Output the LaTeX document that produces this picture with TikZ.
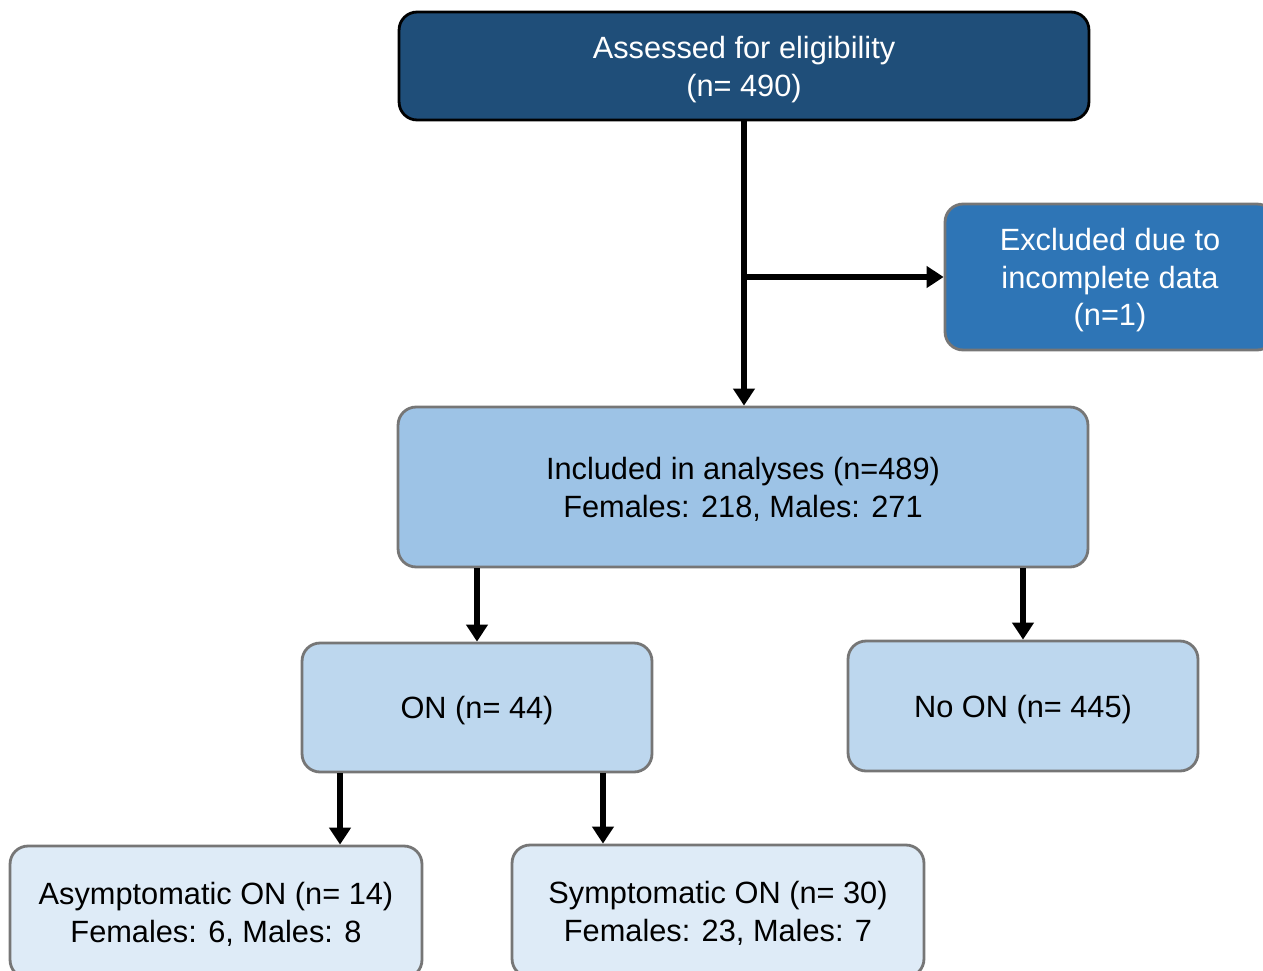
\documentclass[tikz,border=0pt]{standalone}
\usepackage{fontspec}
\setmainfont{Liberation Sans}
\usetikzlibrary{arrows.meta,calc}

\definecolor{darkbox}{HTML}{1F4E79}
\definecolor{midbox}{HTML}{2E75B6}
\definecolor{inclbox}{HTML}{9DC3E6}
\definecolor{onbox}{HTML}{BDD7EE}
\definecolor{subbox}{HTML}{DEEBF7}
\definecolor{edgegray}{HTML}{767676}

\begin{document}
\begin{tikzpicture}[x=0.02cm, y=-0.02cm]

		\tikzstyle{every node}=[font=\fontsize{17.5}{21.5}\selectfont]
		\tikzset{
			box/.style={draw=edgegray, line width=1.6pt, rounded corners=0.36cm, align=center, inner sep=0pt, text depth=0pt},
			flow/.style={line width=3.8pt, -{Triangle[length=0.34cm, width=0.42cm]}}
		}

		\useasboundingbox (0,0) rectangle (1263,970);
		\clip (0,0) rectangle (1263,970);

		% boxes
		\node[box, draw=black, fill=darkbox, text=white, minimum width=13.8cm, minimum height=2.16cm] (top) at (744,66) {Assessed for eligibility\\(n= 490)};
		\node[box, fill=midbox, text=white, minimum width=6.6cm, minimum height=2.92cm] (excl) at (1110,277) {Excluded due to\\incomplete data\\(n=1)};
		\node[box, fill=inclbox, minimum width=13.8cm, minimum height=3.2cm] (incl) at (743,487) {Included in analyses (n=489)\\Females: 218, Males: 271};
		\node[box, fill=onbox, minimum width=7cm, minimum height=2.58cm] (on) at (477,707.5) {ON (n= 44)};
		\node[box, fill=onbox, minimum width=7cm, minimum height=2.6cm] (noon) at (1023,706) {No ON (n= 445)};
		\node[box, fill=subbox, minimum width=8.24cm, minimum height=2.64cm] (asym) at (216,912) {Asymptomatic ON (n= 14)\\Females: 6, Males: 8};
		\node[box, fill=subbox, minimum width=8.24cm, minimum height=2.64cm] (sym) at (718,911) {Symptomatic ON (n= 30)\\Females: 23, Males: 7};

		% arrows
		\draw[flow] (top.south) -- (top.south |- incl.north);
		\coordinate (split) at (top.south |- excl.west);
		\draw[flow] (split) -- (excl.west);
		\draw[flow] (incl.south -| on.north) -- (on.north);
		\draw[flow] (incl.south -| noon.north) -- (noon.north);
		\draw[flow] ([xshift=-2.74cm]on.south) -- ([xshift=-2.74cm]on.south |- asym.north);
		\draw[flow] ([xshift=2.52cm]on.south) -- ([xshift=2.52cm]on.south |- sym.north);

\end{tikzpicture}
\end{document}
